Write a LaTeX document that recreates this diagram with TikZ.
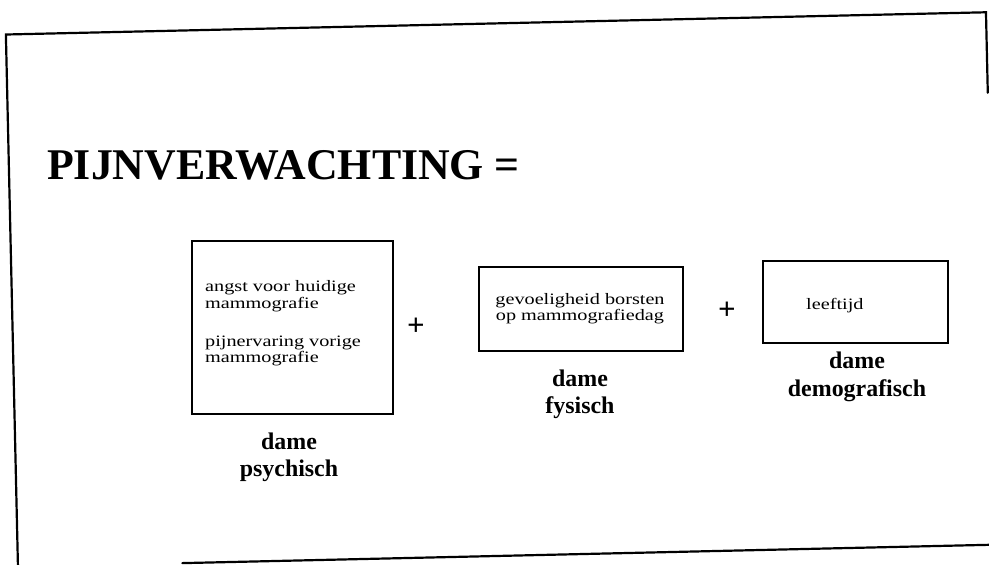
\documentclass[tikz,border=0pt]{standalone}
\usepackage{fontspec}
\setmainfont{Liberation Serif}
\newfontfamily\boxfont[FakeStretch=1.27]{Liberation Serif}
\begin{document}
\begin{tikzpicture}[x=1bp,y=-1bp,
  frameline/.style={line width=2.2bp, line cap=round},
  boxframe/.style={draw, line width=1.3bp, inner sep=0pt},
  boxtxt/.style={font=\boxfont\fontsize{16}{16}\selectfont, inner sep=0pt},
  caption/.style={font=\bfseries\fontsize{24}{26}\selectfont, inner sep=0pt, anchor=base},
  plussign/.style={font=\bfseries\fontsize{31}{31}\selectfont, inner sep=0pt}]
\clip (0,0) rectangle (989,565);

% slide border, slightly tilted and open at the lower left and upper right
\begin{scope}[rotate around={1.3:(494,282)}]
  \coordinate (f1) at (11.6,640);
  \coordinate (f2) at (11.6,23.5);
  \coordinate (f3) at (992,23.5);
  \coordinate (f4) at (992,104);
  \coordinate (f5) at (176,556);
  \coordinate (f6) at (1040,556);
  \draw[frameline] (f1) -- (f2) -- (f3) -- (f4);
  \draw[frameline] (f5) -- (f6);
\end{scope}

% heading
\node[font=\bfseries\fontsize{44}{50}\selectfont, inner sep=0pt, anchor=base west]
  (title) at (47,180) {PIJNVERWACHTING =};

% the three factor boxes
\node[boxframe, minimum width=201bp, minimum height=173bp] (b1) at (292.5,327.5) {};
\node[boxframe, minimum width=204bp, minimum height=84bp] (b2) at (581,309) {};
\node[boxframe, minimum width=185bp, minimum height=82bp] (b3) at (855.5,302) {};

% box contents
\node[boxtxt, anchor=base west] (t11) at (205,292) {angst voor huidige};
\node[boxtxt, anchor=base west] (t12) at (205,308) {mammografie};
\node[boxtxt, anchor=base west] (t13) at (205,346) {pijnervaring vorige};
\node[boxtxt, anchor=base west] (t14) at (205,362) {mammografie};
\node[boxtxt, anchor=base] (t21) at (580,304) {gevoeligheid borsten};
\node[boxtxt, anchor=base] (t22) at (580,320) {op mammografiedag};
\node[boxtxt, anchor=base west] (t31) at (806,309) {leeftijd};

% plus signs between the boxes
\node[plussign] (p1) at (416,327) {+};
\node[plussign] (p2) at (727,311) {+};

% captions under the boxes
\node[caption] (c11) at (289,449) {dame};
\node[caption] (c12) at (289,476) {psychisch};
\node[caption] (c21) at (580,386) {dame};
\node[caption] (c22) at (580,413) {fysisch};
\node[caption] (c31) at (857,368) {dame};
\node[caption] (c32) at (857,396) {demografisch};
\end{tikzpicture}
\end{document}
